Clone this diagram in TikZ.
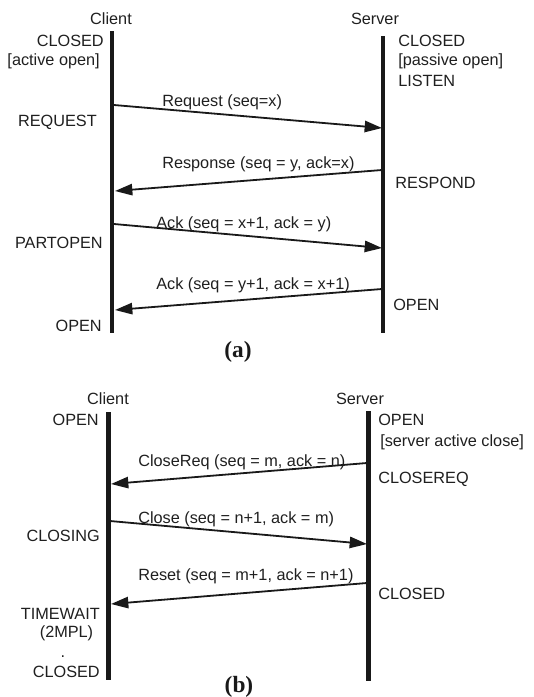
\documentclass[tikz,border=0pt]{standalone}
\usepackage{fontspec}
\setmainfont{Liberation Sans}
\newfontfamily\capfont{Liberation Serif}
\usetikzlibrary{arrows.meta}

\begin{document}
\begin{tikzpicture}[x=0.75pt,y=-0.75pt,
  lbl/.style={font=\fontsize{12.2}{14}\selectfont, inner sep=0pt, text=black!88},
  lw/.style={lbl, anchor=base west},
  le/.style={lbl, anchor=base east},
  lc/.style={lbl, anchor=base},
  life/.style={line width=3.4pt, black!90},
  msg/.style={line width=1.35pt, black!90, -{Triangle[length=13pt,width=8.5pt]}},
  caption/.style={font=\capfont\bfseries\fontsize{17.5}{20}\selectfont, inner sep=0pt, anchor=base, text=black!90}]
\useasboundingbox (0,0) rectangle (533,697);

% ---------------- (a) connection establishment ----------------
\coordinate (ca-top) at (112,31);
\coordinate (ca-bot) at (112,333);
\coordinate (sa-top) at (383,36);
\coordinate (sa-bot) at (383,333);
\draw[life] (ca-top) -- (ca-bot);
\draw[life] (sa-top) -- (sa-bot);

\node[lc] (client-a) at (111,24) {Client};
\node[lc] (server-a) at (375,24) {Server};

\node[le] (a-closed-c) at (104,46) {CLOSED};
\node[le] (a-active) at (100,65) {[active open]};
\node[le] (a-request) at (97,126) {REQUEST};
\node[le] (a-partopen) at (103,248) {PARTOPEN};
\node[le] (a-open-c) at (102,331) {OPEN};

\node[lw] (a-closed-s) at (398,46) {CLOSED};
\node[lw] (a-passive) at (398,65) {[passive open]};
\node[lw] (a-listen) at (398,86) {LISTEN};
\node[lw] (a-respond) at (395,188) {RESPOND};
\node[lw] (a-open-s) at (393,310) {OPEN};

\coordinate (a1s) at (114,105);  \coordinate (a1e) at (382,128);
\coordinate (a2s) at (382,170);  \coordinate (a2e) at (115,191);
\coordinate (a3s) at (114,224);  \coordinate (a3e) at (382,248);
\coordinate (a4s) at (382,289);  \coordinate (a4e) at (115,310);
\draw[msg] (a1s) -- (a1e);
\draw[msg] (a2s) -- (a2e);
\draw[msg] (a3s) -- (a3e);
\draw[msg] (a4s) -- (a4e);

\node[lw] (m-a1) at (162,106) {Request (seq=x)};
\node[lw] (m-a2) at (162,168) {Response (seq = y, ack=x)};
\node[lw] (m-a3) at (156,228) {Ack (seq = x+1, ack = y)};
\node[lw] (m-a4) at (156,289) {Ack (seq = y+1, ack = x+1)};

\node[caption] (cap-a) at (238,357) {(a)};

% ---------------- (b) connection termination ----------------
\coordinate (cb-top) at (108.5,412);
\coordinate (cb-bot) at (108.5,680);
\coordinate (sb-top) at (368.5,411);
\coordinate (sb-bot) at (368.5,681);
\draw[life] (cb-top) -- (cb-bot);
\draw[life] (sb-top) -- (sb-bot);

\node[lc] (client-b) at (108,404) {Client};
\node[lc] (server-b) at (360,404) {Server};

\node[le] (b-open-c) at (99,425) {OPEN};
\node[le] (b-closing) at (100,541) {CLOSING};
\node[le] (b-timewait) at (100,619) {TIMEWAIT};
\node[lc] (b-2mpl) at (66.5,637) {(2MPL)};
\node[lc] (b-dot) at (63,657) {.};
\node[le] (b-closed-c) at (100,677) {CLOSED};

\node[lw] (b-open-s) at (378,425) {OPEN};
\node[lw] (b-active) at (380,446) {[server active close]};
\node[lw] (b-closereq) at (378,483) {CLOSEREQ};
\node[lw] (b-closed-s) at (378,599) {CLOSED};

\coordinate (b1s) at (367,463);  \coordinate (b1e) at (111,484);
\coordinate (b2s) at (110,521);  \coordinate (b2e) at (367,544);
\coordinate (b3s) at (367,583);  \coordinate (b3e) at (111,604);
\draw[msg] (b1s) -- (b1e);
\draw[msg] (b2s) -- (b2e);
\draw[msg] (b3s) -- (b3e);

\node[lw] (m-b1) at (138,466) {CloseReq (seq = m, ack = n)};
\node[lw] (m-b2) at (138,523) {Close (seq = n+1, ack = m)};
\node[lw] (m-b3) at (138,580) {Reset (seq = m+1, ack = n+1)};

\node[caption] (cap-b) at (239,692) {(b)};
\end{tikzpicture}
\end{document}
